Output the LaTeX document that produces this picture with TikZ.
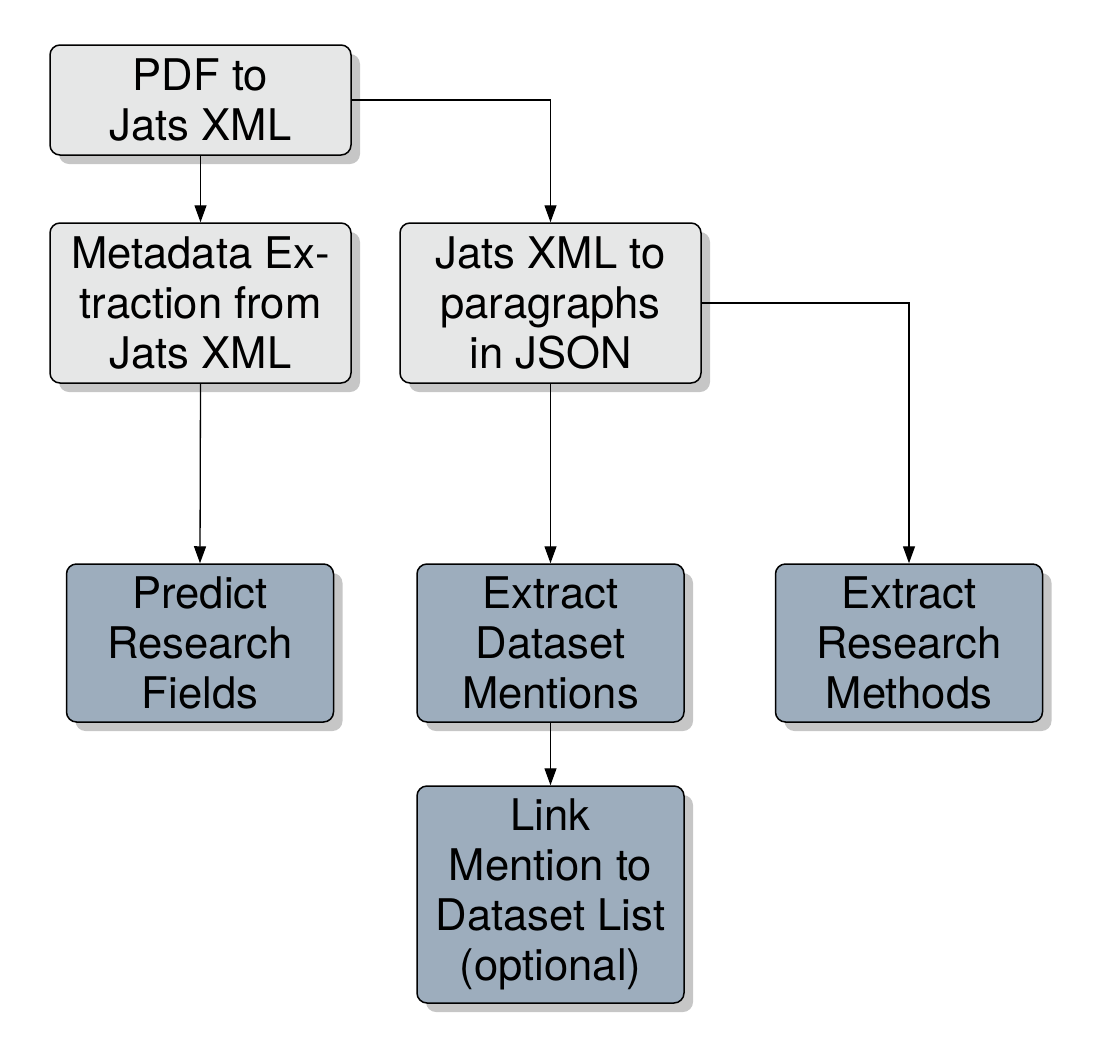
\documentclass[tikz,border=0pt]{standalone}
\usepackage{fontspec}
\setmainfont{TeX Gyre Heros}
\usetikzlibrary{arrows.meta,shadows}
\definecolor{boxgray}{RGB}{230,231,231}
\definecolor{boxblue}{RGB}{157,173,189}
\tikzset{
  box/.style={draw=black, line width=0.75pt, rounded corners=5pt, inner sep=0pt,
    align=center, font=\fontsize{21.8}{25}\selectfont,
    drop shadow={shadow xshift=4.5pt, shadow yshift=-4.5pt, fill=black!28, opacity=0.8}},
  graybox/.style={box, fill=boxgray, minimum width=150.5pt},
  bluebox/.style={box, fill=boxblue, minimum width=133.5pt},
  arr/.style={draw=black, line width=0.65pt, -{Triangle[length=8.5pt,width=6pt]}}
}
\begin{document}
\begin{tikzpicture}[x=0.5pt,y=-0.5pt]
\useasboundingbox (0,0) rectangle (1115,1061);
\node[graybox, minimum height=55pt] (pdf) at (200.5,100) {PDF to\\Jats XML};
\node[graybox, minimum height=80pt] (meta) at (200.5,303) {Metadata Ex-\\traction from\\Jats XML};
\node[graybox, minimum height=80pt] (jats) at (550.5,303) {Jats XML to\\paragraphs\\in JSON};
\node[bluebox, minimum height=79pt] (pred) at (200,643) {Predict\\Research\\Fields};
\node[bluebox, minimum height=79pt] (ds) at (550.5,643) {Extract\\Dataset\\Mentions};
\node[bluebox, minimum height=79pt] (meth) at (909,643) {Extract\\Research\\Methods};
\node[bluebox, minimum height=108.5pt] (link) at (550.5,894.5) {Link\\Mention to\\Dataset List\\(optional)};
\draw[arr] (pdf.south) -- (meta.north);
\draw[arr] (pdf.east) -| (jats.north);
\draw[arr] (meta.south) -- (pred.north);
\draw[arr] (jats.south) -- (ds.north);
\draw[arr] (jats.east) -| (meth.north);
\draw[arr] (ds.south) -- (link.north);
\end{tikzpicture}
\end{document}
